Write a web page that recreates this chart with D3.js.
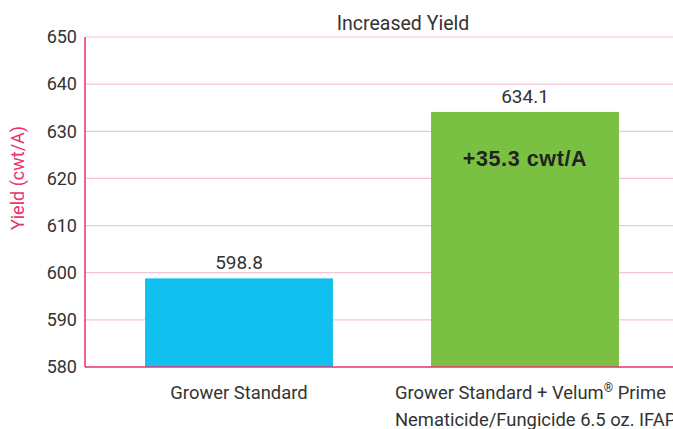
<!DOCTYPE html>
<html>
<head>
<meta charset="utf-8">
<script src="https://cdn.jsdelivr.net/npm/d3@7"></script>
<style>
  html, body { margin: 0; padding: 0; background: #fff; overflow: hidden; }
  svg text { font-family: 'Liberation Sans Narrow', 'Roboto', 'Open Sans', sans-serif; }
</style>
</head>
<body>
<svg id="chart" width="673" height="429"></svg>
<script>
// Increased Yield — two bars, grower standard vs. with Velum Prime

const categories = ["Grower Standard", "Grower Standard + Velum® Prime|Nematicide/Fungicide 6.5 oz. IFAP"];
const yields = [598.8, 634.1];
const yTicks = [580, 590, 600, 610, 620, 630, 640, 650];
const gainLabel = "+35.3 cwt/A";

const W = 673, H = 429;
const LEFT = 85, TOP = 37, BOTTOM = 367;
const PINK = "#e8336b", GRID = "#f7c3d6", TEXT = "#333";

const svg = d3.select("#chart");

const y = d3.scaleLinear().domain([580, 650]).range([BOTTOM, TOP]);
const x = d3.scaleBand().domain(categories).range([96, 668])
  .paddingInner(0.343).paddingOuter(0.1715);

// grid
svg.append("g").selectAll("line").data(yTicks.slice(1)).enter().append("line")
  .attr("x1", LEFT).attr("x2", W)
  .attr("y1", (d) => y(d)).attr("y2", (d) => y(d))
  .attr("stroke", GRID).attr("stroke-width", 1.2);

// bars
svg.append("g").selectAll("rect").data(yields).enter().append("rect")
  .attr("x", (d, i) => x(categories[i]))
  .attr("width", x.bandwidth())
  .attr("y", (d) => y(d))
  .attr("height", (d) => BOTTOM - y(d))
  .attr("fill", (d, i) => i === 0 ? "#12c0ef" : "#7ac143");

// value labels
svg.append("g").selectAll("text").data(yields).enter().append("text")
  .attr("x", (d, i) => x(categories[i]) + x.bandwidth() / 2)
  .attr("y", (d) => y(d) - 9)
  .attr("text-anchor", "middle")
  .style("font-size", "19px").style("fill", TEXT)
  .text((d) => d.toFixed(1));

svg.append("text")
  .attr("x", x(categories[1]) + x.bandwidth() / 2)
  .attr("y", 166)
  .attr("text-anchor", "middle")
  .style("font-family", "'Liberation Sans', Arial, sans-serif")
  .style("font-size", "21.5px").style("font-weight", "bold").style("fill", "#222")
  .style("letter-spacing", "0.6px")
  .text(gainLabel);

// axes
svg.append("line").attr("x1", LEFT).attr("x2", LEFT).attr("y1", TOP).attr("y2", BOTTOM)
  .attr("stroke", PINK).attr("stroke-width", 1.5);
svg.append("line").attr("x1", LEFT).attr("x2", W).attr("y1", BOTTOM).attr("y2", BOTTOM)
  .attr("stroke", PINK).attr("stroke-width", 1.5);

svg.append("g").selectAll("text").data(yTicks).enter().append("text")
  .attr("x", LEFT - 8).attr("y", (d) => y(d))
  .attr("dy", "0.35em").attr("text-anchor", "end")
  .style("font-size", "18px").style("fill", TEXT)
  .text((d) => d);

// category labels (multi-line ones are left aligned, as in the source)
categories.forEach((c, i) => {
  const lines = c.split("|");
  const cx = x(c) + x.bandwidth() / 2;
  const lx = lines.length > 1 ? cx - 130 : cx;
  const t = svg.append("text")
    .attr("x", lx).attr("y", 399)
    .attr("text-anchor", lines.length > 1 ? "start" : "middle")
    .style("font-size", "18.4px").style("fill", TEXT);
  lines.forEach((line, j) => {
    const parts = line.split("®");
    const ts = t.append("tspan").attr("x", lx).attr("dy", j === 0 ? 0 : 27);
    if (parts.length === 1) { ts.text(line); return; }
    ts.text(parts[0]);
    t.append("tspan").attr("baseline-shift", "super").style("font-size", "12px").text("®");
    t.append("tspan").text(parts[1]);
  });
});

// title + axis title
svg.append("text").attr("x", 403).attr("y", 30).attr("text-anchor", "middle")
  .style("font-size", "19.5px").style("fill", TEXT).text("Increased Yield");

svg.append("text")
  .attr("transform", "translate(24,178) rotate(-90)")
  .attr("text-anchor", "middle")
  .style("font-size", "18px").style("fill", PINK)
  .text("Yield (cwt/A)");
</script>
</body>
</html>
